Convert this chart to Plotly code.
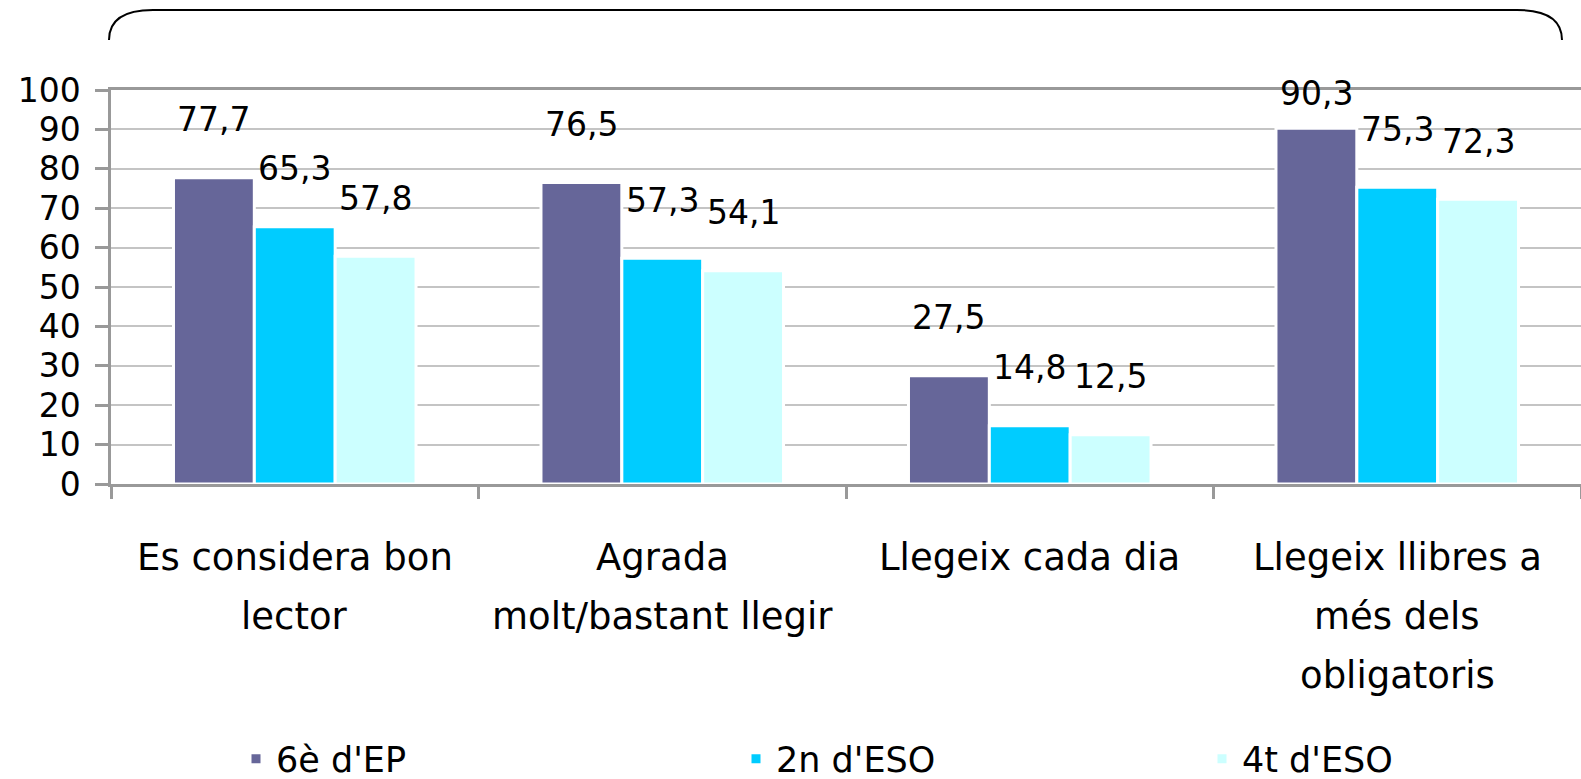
import plotly.graph_objects as go

categories = ["Es considera bon<br>lector", "Agrada<br>molt/bastant llegir",
              "Llegeix cada dia", "Llegeix llibres a<br>més dels<br>obligatoris"]
series_names = ["6è d'EP", "2n d'ESO", "4t d'ESO"]
vals_6ep = [77.7, 76.5, 27.5, 90.3]
vals_2eso = [65.3, 57.3, 14.8, 75.3]
vals_4eso = [57.8, 54.1, 12.5, 72.3]
colors = ["#666699", "#00CCFF", "#CCFFFF"]
y_ticks = [0, 10, 20, 30, 40, 50, 60, 70, 80, 90, 100]

FONT = "DejaVu Sans"
WEIGHT = 400
W, H = 1581, 779
ML, MR, MT, MB = 111, 0, 90, 295
PW = W - ML - MR
PH = H - MT - MB
BARGAP = 0.34
cat_px = PW / len(categories)
slot = (1 - BARGAP) * cat_px / 3

def fmt(v):
    return f"{v:.1f}".replace(".", ",")

def F(size):
    return dict(family=FONT, size=size, color="black", weight=WEIGHT)

legend_names = ["legend", "legend2", "legend3"]
legend_x_px = [236, 736, 1202]

fig = go.Figure()
all_vals = [vals_6ep, vals_2eso, vals_4eso]
for name, vals, col, lg in zip(series_names, all_vals, colors, legend_names):
    fig.add_trace(go.Bar(x=categories, y=vals, name=name, legend=lg, showlegend=True,
                         marker=dict(color=col, line=dict(color="white", width=3))))

annotations = []
for si, vals in enumerate(all_vals):
    for ci, v in enumerate(vals):
        top_px = PH * v / 100
        ys = min(58, (PH - 3) - top_px)
        annotations.append(dict(x=categories[ci], y=v, xref="x", yref="y",
                                text=fmt(v), showarrow=False, xshift=(si - 1) * slot,
                                yshift=ys, yanchor="middle", font=F(33)))

for ci, lab in enumerate(categories):
    for li, line in enumerate(lab.split("<br>")):
        annotations.append(dict(x=categories[ci], y=0, xref="x", yref="paper",
                                text=line, showarrow=False, yanchor="middle",
                                yshift=-(73 + 59 * li), font=F(37)))

def px2p(x, y):
    return (x - ML) / PW, (H - MB - y) / PH

p = [px2p(109, 40), px2p(109, 10), px2p(153, 10), px2p(1517, 10), px2p(1562, 10), px2p(1562, 40)]
path = (f"M {p[0][0]},{p[0][1]} Q {p[1][0]},{p[1][1]} {p[2][0]},{p[2][1]} "
        f"L {p[3][0]},{p[3][1]} Q {p[4][0]},{p[4][1]} {p[5][0]},{p[5][1]}")

legends = {}
for lg, lx in zip(legend_names, legend_x_px):
    legends[lg] = dict(orientation="h", x=(lx - ML) / PW, xanchor="left",
                       y=(H - MB - 759) / PH, yanchor="middle", font=F(35),
                       bgcolor="rgba(0,0,0,0)", itemclick=False, itemdoubleclick=False)

fig.update_layout(
    width=W, height=H, showlegend=True,
    margin=dict(l=ML, r=MR, t=MT, b=MB, autoexpand=False),
    plot_bgcolor="white", paper_bgcolor="white",
    barmode="group", bargap=BARGAP, bargroupgap=0,
    font=F(35),
    annotations=annotations,
    shapes=[dict(type="path", path=path, xref="paper", yref="paper",
                 line=dict(color="black", width=2))],
    xaxis=dict(type="category", showticklabels=False, showline=True, mirror=True,
               linecolor="#999999", linewidth=2.5, ticks="outside", tickson="boundaries",
               ticklen=12, tickwidth=2.5, tickcolor="#999999", showgrid=False),
    yaxis=dict(range=[0, 100], tickvals=y_ticks, showline=True, linecolor="#999999",
               linewidth=2.5, ticks="outside", ticklen=13, tickwidth=2.5, tickcolor="#999999",
               gridcolor="#C4C4C4", gridwidth=2, zeroline=False,
               tickfont=F(33), ticklabelstandoff=8),
    **legends,
)

fig.write_html("out.html", config={"displayModeBar": False},
               post_script="document.body.style.margin='0';")
